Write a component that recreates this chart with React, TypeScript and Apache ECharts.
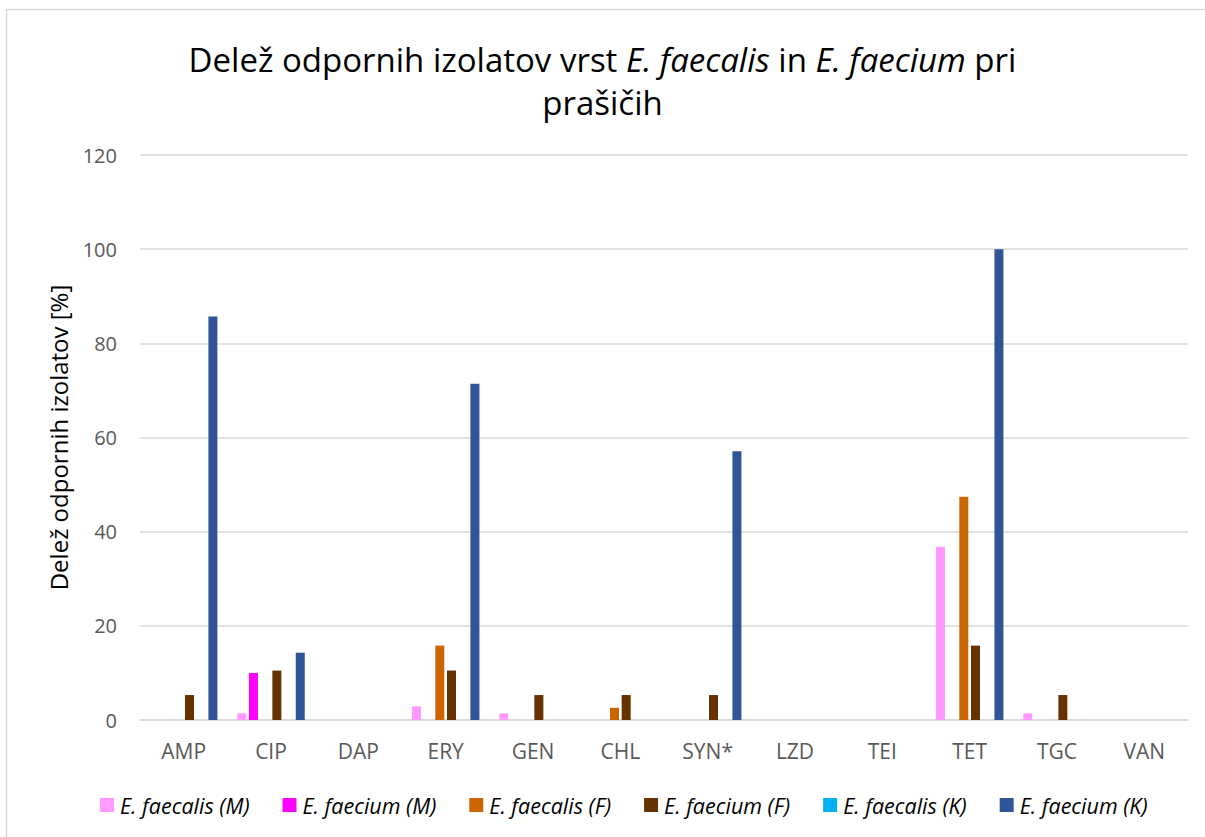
import React, { useEffect, useRef } from "react";
import * as echarts from "echarts";

const categories = ["AMP", "CIP", "DAP", "ERY", "GEN", "CHL", "SYN*", "LZD", "TEI", "TET", "TGC", "VAN"];
const seriesNames = ["E. faecalis (M)", "E. faecium (M)", "E. faecalis (F)", "E. faecium (F)", "E. faecalis (K)", "E. faecium (K)"];
const faecalisM = [0, 1.4, 0, 2.9, 1.4, 0, 0, 0, 0, 36.8, 1.4, 0];
const faeciumM = [0, 10, 0, 0, 0, 0, 0, 0, 0, 0, 0, 0];
const faecalisF = [0, 0, 0, 15.8, 0, 2.6, 0, 0, 0, 47.4, 0, 0];
const faeciumF = [5.3, 10.5, 0, 10.5, 5.3, 5.3, 5.3, 0, 0, 15.8, 5.3, 0];
const faecalisK = [0, 0, 0, 0, 0, 0, 0, 0, 0, 0, 0, 0];
const faeciumK = [85.7, 14.3, 0, 71.4, 0, 0, 57.1, 0, 0, 100, 0, 0];
const seriesData = [faecalisM, faeciumM, faecalisF, faeciumF, faecalisK, faeciumK];
const colors = ["#ff99ff", "#ff00ff", "#cc6600", "#663300", "#00b0f0", "#2f5597"];
const yTicks = { min: 0, max: 120, interval: 20 };

const FONT = "'Open Sans', 'Noto Sans', sans-serif";

export default function App() {
  const ref = useRef<HTMLDivElement>(null);
  useEffect(() => {
    if (!ref.current) return;
    const chart = echarts.init(ref.current, null, { renderer: "svg" });
    chart.setOption({
      animation: false,
      backgroundColor: "#ffffff",
      graphic: [
        {
          type: "rect",
          shape: { x: 6.5, y: 9.5, width: 1220, height: 850 },
          style: { fill: "none", stroke: "#d9d9d9", lineWidth: 1.5 },
          silent: true,
          z: -1,
        },
      ],
      title: {
        left: "center",
        top: 33,
        text: "{n|Delež odpornih izolatov vrst }{i|E. faecalis}{n| in }{i|E. faecium}{n| pri}\n{n|prašičih}",
        textStyle: {
          fontWeight: "normal",
          rich: {
            n: { fontFamily: FONT, fontSize: 33, fontWeight: "normal", color: "#000000", lineHeight: 43 },
            i: { fontFamily: FONT, fontSize: 33, fontWeight: "normal", color: "#000000", fontStyle: "italic", lineHeight: 43 },
          },
        },
      },
      legend: {
        top: 789,
        left: 95,
        icon: "rect",
        itemWidth: 14,
        itemHeight: 14,
        itemGap: 33,
        data: seriesNames,
        textStyle: { fontFamily: FONT, fontSize: 21.5, fontStyle: "italic", color: "#000000", padding: [0, 0, 0, 1] },
      },
      grid: { left: 140, right: 17, top: 155, bottom: 117, containLabel: false },
      xAxis: {
        type: "category",
        data: categories,
        axisLine: { lineStyle: { color: "#d9d9d9", width: 1.5 } },
        axisTick: { show: false },
        axisLabel: { color: "#595959", fontFamily: FONT, fontSize: 21, margin: 20 },
      },
      yAxis: {
        type: "value",
        min: yTicks.min,
        max: yTicks.max,
        interval: yTicks.interval,
        name: "Delež odpornih izolatov [%]",
        nameLocation: "middle",
        nameGap: 70,
        nameTextStyle: { color: "#000000", fontFamily: FONT, fontSize: 24 },
        axisLine: { show: false },
        axisTick: { show: false },
        splitLine: { lineStyle: { color: "#d9d9d9", width: 1.5 } },
        axisLabel: { color: "#595959", fontFamily: FONT, fontSize: 20, margin: 23 },
      },
      series: seriesNames.map((name, i) => ({
        name,
        type: "bar",
        data: seriesData[i],
        barWidth: 9,
        barGap: "30%",
        itemStyle: { color: colors[i] },
      })),
    });
    return () => chart.dispose();
  }, []);
  return (
    <div
      ref={ref}
      style={{ position: "fixed", left: 0, top: 0, width: 1205, height: 837 }}
    />
  );
}
